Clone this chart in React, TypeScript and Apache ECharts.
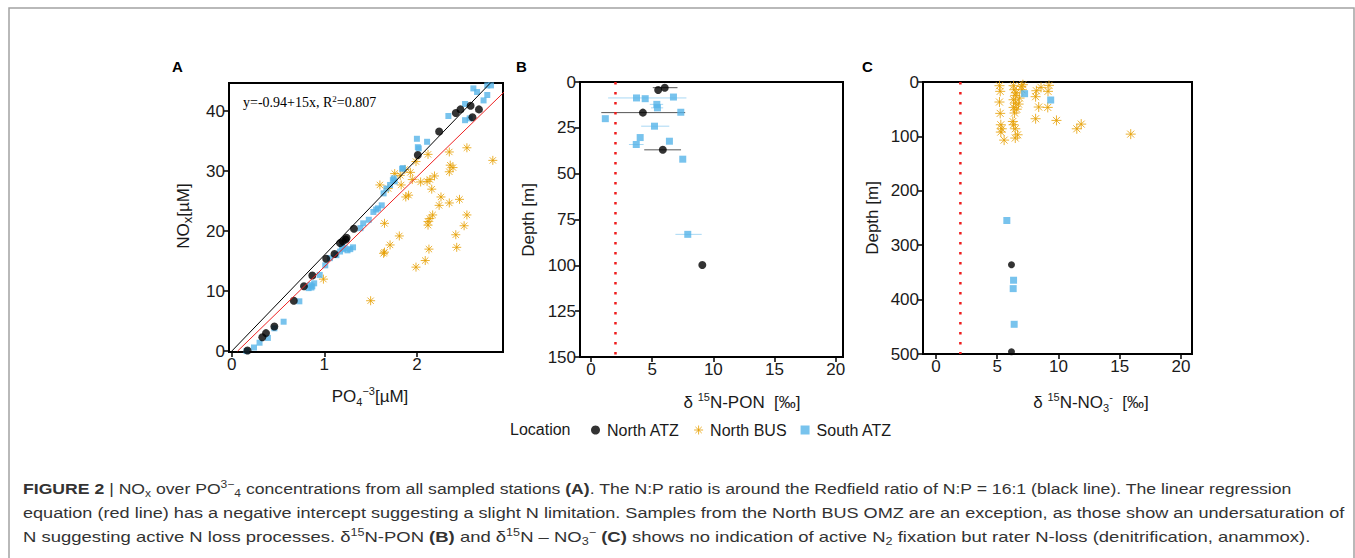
import React, { useEffect, useRef } from "react";
import * as echarts from "echarts";

// ---------------- DATA ----------------
// Panel A: [PO4 (µM), NOx (µM)]
const aNorthATZ: number[][] = [
  [0.17, 0.1], [0.33, 2.3], [0.37, 3.0], [0.46, 4.1], [0.67, 8.4], [0.78, 10.8],
  [0.87, 12.6], [1.02, 15.4], [1.11, 16.2], [1.17, 18.0], [1.2, 18.3], [1.23, 18.6],
  [1.24, 18.9], [1.32, 20.4], [2.01, 32.7], [2.24, 36.6], [2.42, 39.7], [2.47, 40.3],
  [2.58, 40.9], [2.6, 39.0], [2.67, 40.3],
];
const aNorthBUS: number[][] = [
  [1.5, 8.4], [0.99, 12.0], [1.99, 14.0], [2.09, 15.1], [1.64, 16.3], [1.65, 16.5],
  [1.71, 17.7], [1.81, 19.2], [2.13, 17.0], [2.43, 17.3], [2.42, 19.4], [2.51, 20.9],
  [2.54, 22.7], [1.65, 21.3], [2.12, 21.6], [2.12, 21.0], [2.17, 22.7], [2.14, 22.1],
  [2.24, 24.3], [2.35, 24.7], [2.46, 25.3], [2.26, 25.7], [1.88, 25.7], [1.91, 26.0],
  [2.16, 27.0], [2.11, 28.3], [2.14, 28.6], [2.19, 29.2], [2.04, 28.2], [1.95, 28.6],
  [1.6, 27.7], [1.69, 27.1], [1.83, 27.7], [1.82, 29.3], [1.87, 30.3], [1.99, 31.6],
  [2.12, 32.8], [2.35, 33.2], [2.36, 31.0], [2.39, 30.6], [2.35, 29.9], [2.54, 33.9],
  [2.82, 31.8], [1.93, 29.8], [1.76, 29.6],
];
const aSouthATZ: number[][] = [
  [0.16, 0.0], [0.24, 0.6], [0.3, 1.4], [0.39, 2.2], [0.46, 3.8], [0.56, 4.9],
  [0.73, 8.3], [0.83, 10.5], [0.85, 11.0], [0.87, 10.8], [0.89, 11.3], [0.86, 10.6],
  [0.95, 12.7], [1.01, 14.3], [1.06, 15.5], [1.13, 16.0], [1.17, 16.6], [1.2, 17.0],
  [1.22, 17.2], [1.25, 16.8], [1.28, 17.0], [1.31, 17.3], [1.19, 17.4], [1.39, 20.5],
  [1.42, 21.3], [1.48, 21.9], [1.53, 23.2], [1.56, 23.6], [1.58, 23.8], [1.62, 24.3],
  [1.64, 26.3], [1.67, 27.1], [1.71, 27.7], [1.75, 28.8], [1.76, 28.3], [1.74, 28.5],
  [1.84, 30.4], [1.85, 30.5], [2.0, 35.4], [2.01, 34.0], [2.02, 33.8], [2.11, 34.9],
  [2.34, 39.2], [2.52, 38.5], [2.57, 38.8], [2.52, 41.2], [2.61, 43.8], [2.65, 43.2],
  [2.72, 41.8], [2.76, 42.7], [2.76, 44.3], [2.8, 44.3],
];
// Redfield 16:1 (black) and regression y = -0.94 + 15x (red), endpoints
const redfieldLine: number[][] = [[0, 0], [2.9, 46.4]];
const regressionLine: number[][] = [[0.0627, 0], [2.95, 43.31]];

// Panel B: [δ15N-PON (‰), depth (m)]
const bNorthATZ: number[][] = [[6.03, 3.1], [5.49, 4.4], [4.24, 16.7], [5.87, 37.0], [9.1, 99.8]];
const bSouthATZ: number[][] = [
  [3.72, 8.7], [4.43, 9.1], [6.74, 8.2], [5.38, 12.2], [5.43, 14.1], [7.34, 16.5],
  [1.17, 20.0], [5.19, 24.1], [4.02, 30.3], [3.7, 34.1], [6.41, 32.3], [7.5, 42.1], [7.91, 83.1],
];
// error bars: [low, high, depth]
const bErrNorthATZ: number[][] = [[5.05, 7.07, 3.1], [0.84, 7.7, 16.7], [4.35, 7.36, 37.0]];
const bErrSouthATZ: number[][] = [
  [1.4, 7.8, 8.7], [4.8, 5.9, 12.2], [4.9, 5.9, 14.1], [4.1, 6.4, 24.1], [3.1, 4.3, 34.1], [6.9, 9.05, 83.1],
];

// Panel C: [δ15N-NO3 (‰), depth (m)]
const cNorthATZ: number[][] = [[6.17, 336], [6.17, 496]];
const cSouthATZ: number[][] = [[7.24, 21.5], [9.37, 33.1], [5.79, 254.6], [6.34, 364.4], [6.31, 379.8], [6.39, 445.4]];
const cNorthBUS: number[][] = [
  [5.19, 6.8], [5.25, 17.2], [5.19, 36.8], [5.25, 57.7], [5.3, 78.6], [5.38, 86], [5.3, 92],
  [5.57, 106.8], [6.34, 6.8], [6.39, 14.2], [6.48, 24.6], [6.34, 32.6], [6.48, 38.7],
  [6.34, 46.7], [6.42, 57], [6.28, 72.5], [6.34, 78.6], [6.48, 86], [6.67, 97], [6.48, 103],
  [6.97, 8], [7.02, 14.2], [6.83, 29.5], [6.75, 40.6], [7.1, 5], [8.2, 16], [8.14, 27],
  [8.58, 9.9], [8.39, 46], [9.13, 46.7], [9.15, 17.2], [9.23, 6.2], [8.14, 67.5], [9.84, 70.6],
  [11.5, 86], [11.86, 77.4], [15.9, 95.8], [6.55, 20], [6.6, 50],
];
const referenceIsotope = 2; // dotted red line (‰)

const ticksA_X = [0, 1, 2];
const ticksA_Y = [0, 10, 20, 30, 40];
const ticksIso = [0, 5, 10, 15, 20];

const locations = ["North ATZ", "North BUS", "South ATZ"];

const captionLines = [
  "{b|FIGURE 2} | NO{sub|x} over PO{sup|3−}{sub|4} concentrations from all sampled stations {b|(A)}. The N:P ratio is around the Redfield ratio of N:P = 16:1 (black line). The linear regression",
  "equation (red line) has a negative intercept suggesting a slight N limitation. Samples from the North BUS OMZ are an exception, as those show an undersaturation of",
  "N suggesting active N loss processes. δ{sup|15}N-PON {b|(B)} and δ{sup|15}N – NO{sub|3}{sup|−} {b|(C)} shows no indication of active N{sub|2} fixation but rater N-loss (denitrification, anammox).",
];

// ---------------- STYLE ----------------
const SANS = "'Liberation Sans', Arial, Helvetica, sans-serif";
const SERIF = "'Liberation Serif', 'Times New Roman', serif";
const BLACK = "#000000";
const ORANGE = "#E69F00";
const BLUE = "#56B4E9";
const STAR = "path://M5,0L5,10M0,5L10,5M1.5,1.5L8.5,8.5M8.5,1.5L1.5,8.5";

function xAxis(gridIndex: number, min: number, max: number, ticks: number[], fontSize: number) {
  return {
    type: "value", gridIndex, min, max,
    splitLine: { show: false },
    axisLine: { show: true, onZero: false, lineStyle: { color: BLACK, width: 2 } },
    axisTick: { show: true, length: 5, customValues: ticks, lineStyle: { color: BLACK, width: 1.5 } },
    axisLabel: { customValues: ticks, fontSize, color: "#1a1a1a", fontFamily: SANS, margin: 4 },
  };
}
function yAxis(gridIndex: number, min: number, max: number, ticks: number[], fontSize: number, inverse: boolean) {
  return {
    type: "value", gridIndex, min, max, inverse,
    splitLine: { show: false },
    axisLine: { show: true, onZero: false, lineStyle: { color: BLACK, width: 2 } },
    axisTick: { show: true, length: 5, customValues: ticks, lineStyle: { color: BLACK, width: 1.5 } },
    axisLabel: { customValues: ticks, fontSize, color: "#1a1a1a", fontFamily: SANS, margin: 4 },
  };
}

function scatter(name: string, data: number[][], gi: number, size: number) {
  const base: any = { type: "scatter", name, data, xAxisIndex: gi, yAxisIndex: gi, silent: true };
  if (name === "North ATZ") {
    return { ...base, symbol: "circle", symbolSize: size, itemStyle: { color: BLACK }, z: 4 };
  }
  if (name === "South ATZ") {
    return { ...base, symbol: "rect", symbolSize: size, itemStyle: { color: BLUE }, z: 3 };
  }
  return {
    ...base, symbol: STAR, symbolSize: size,
    itemStyle: { color: "rgba(230,159,0,0.25)", borderColor: ORANGE, borderWidth: 1 }, z: 2,
  };
}

function errorBars(name: string, data: number[][], color: string) {
  return {
    type: "custom", name, data, xAxisIndex: 1, yAxisIndex: 1, silent: true, z: 1,
    encode: { x: [0, 1], y: 2 },
    renderItem: (_p: any, api: any) => {
      const a = api.coord([api.value(0), api.value(2)]);
      const b = api.coord([api.value(1), api.value(2)]);
      return { type: "line", shape: { x1: a[0], y1: a[1], x2: b[0], y2: b[1] }, style: { stroke: color, lineWidth: 1 } };
    },
  };
}

function refLine(gi: number, maxDepth: number) {
  return {
    type: "line", name: "ref" + gi, xAxisIndex: gi, yAxisIndex: gi, silent: true,
    data: [[referenceIsotope, 0], [referenceIsotope, maxDepth]],
    showSymbol: false, symbol: "none", z: 1,
    lineStyle: { color: "#ee1c1c", width: 2.5, type: [2.5, 7.5] },
  };
}

const CAP = 15.4;
const capBase = { fontFamily: SANS, fontSize: CAP, fill: "#333333", lineHeight: 20 };
const capRich = {
  b: { fontFamily: SANS, fontSize: CAP, fontWeight: "bold", fill: "#333333", lineHeight: 20 },
  sup: { fontFamily: SANS, fontSize: 10.5, fill: "#333333", lineHeight: 12, verticalAlign: "top" },
  sub: { fontFamily: SANS, fontSize: 10.5, fill: "#333333", lineHeight: 10, verticalAlign: "bottom" },
};
const captionY = [489, 513, 537];
const captionScale = [1.145, 1.175, 1.2];

function axName(x: number, y: number, text: string, rich: any, rotate = false) {
  return {
    type: "text", x, y, rotation: rotate ? Math.PI / 2 : 0,
    style: {
      text, align: "center", verticalAlign: "middle",
      fontFamily: SANS, fontSize: 17, fill: "#1a1a1a", lineHeight: 22, rich,
    },
  };
}
const nameRich = {
  sup: { fontFamily: SANS, fontSize: 11, fill: "#1a1a1a", lineHeight: 12, verticalAlign: "top" },
  sub: { fontFamily: SANS, fontSize: 11, fill: "#1a1a1a", lineHeight: 12, verticalAlign: "bottom" },
  s: { fontFamily: SANS, fontSize: 13, fill: "#1a1a1a", lineHeight: 18, verticalAlign: "bottom" },
};

const option: any = {
  animation: false,
  backgroundColor: "#ffffff",
  grid: [
    { left: 229, top: 83, width: 274, height: 269, show: true, borderColor: BLACK, borderWidth: 2, containLabel: false },
    { left: 580, top: 82, width: 263, height: 275, show: true, borderColor: BLACK, borderWidth: 2, containLabel: false },
    { left: 923, top: 82, width: 269, height: 272, show: true, borderColor: BLACK, borderWidth: 2, containLabel: false },
  ],
  xAxis: [
    xAxis(0, -0.03, 2.93, ticksA_X, 17),
    xAxis(1, -0.9, 20.6, ticksIso, 17),
    xAxis(2, -1.05, 20.9, ticksIso, 17),
  ],
  yAxis: [
    yAxis(0, -0.15, 44.7, ticksA_Y, 17, false),
    { ...yAxis(1, 0, 150, [0, 25, 50, 75, 100, 125, 150], 17, true), interval: 25 },
    { ...yAxis(2, 0, 500, [0, 100, 200, 300, 400, 500], 17, true), interval: 100 },
  ],
  legend: {
    left: 586, top: 417, itemWidth: 9, itemHeight: 9, itemGap: 14,
    selectedMode: false,
    textStyle: { fontSize: 16, color: "#1a1a1a", fontFamily: SANS, padding: [0, 0, 0, 2] },
    data: [
      { name: "North ATZ", icon: "circle", itemStyle: { color: BLACK } },
      { name: "North BUS", icon: STAR, itemStyle: { color: "rgba(230,159,0,0.2)", borderColor: ORANGE, borderWidth: 1 } },
      { name: "South ATZ", icon: "rect", itemStyle: { color: BLUE } },
    ],
  },
  series: [
    // Panel A
    scatter(locations[1], aNorthBUS, 0, 9),
    scatter(locations[2], aSouthATZ, 0, 6),
    scatter(locations[0], aNorthATZ, 0, 8),
    {
      type: "line", name: "Redfield", data: redfieldLine, xAxisIndex: 0, yAxisIndex: 0,
      showSymbol: false, symbol: "none", silent: true, z: 5, lineStyle: { color: BLACK, width: 1 },
    },
    {
      type: "line", name: "Regression", data: regressionLine, xAxisIndex: 0, yAxisIndex: 0,
      showSymbol: false, symbol: "none", silent: true, z: 5, lineStyle: { color: "#ee2222", width: 1 },
    },
    // Panel B
    refLine(1, 150),
    errorBars("errSouth", bErrSouthATZ, "#a8d8f4"),
    errorBars("errNorth", bErrNorthATZ, "#555555"),
    scatter(locations[2], bSouthATZ, 1, 7),
    scatter(locations[0], bNorthATZ, 1, 8),
    // Panel C
    refLine(2, 500),
    scatter(locations[1], cNorthBUS, 2, 10),
    scatter(locations[2], cSouthATZ, 2, 7),
    scatter(locations[0], cNorthATZ, 2, 7),
  ],
  graphic: [
    {
      type: "rect", shape: { x: 9, y: 8, width: 1345, height: 620 }, silent: true,
      style: { fill: "none", stroke: "#a3a3a3", lineWidth: 1.5 },
    },
    { type: "text", x: 172, y: 66, style: { text: "A", fontFamily: SANS, fontSize: 15, fontWeight: "bold", fill: BLACK, verticalAlign: "middle" } },
    { type: "text", x: 516, y: 66, style: { text: "B", fontFamily: SANS, fontSize: 15, fontWeight: "bold", fill: BLACK, verticalAlign: "middle" } },
    { type: "text", x: 862, y: 66, style: { text: "C", fontFamily: SANS, fontSize: 15, fontWeight: "bold", fill: BLACK, verticalAlign: "middle" } },
    {
      type: "text", x: 243, y: 102,
      style: {
        text: "y=-0.94+15x, R{sup|2}=0.807", fontFamily: SERIF, fontSize: 14, fill: BLACK,
        verticalAlign: "middle", lineHeight: 16,
        rich: { sup: { fontFamily: SERIF, fontSize: 9, fill: BLACK, lineHeight: 9, verticalAlign: "top" } },
      },
    },
    axName(370, 396, "PO{sub|4}{sup|−3}[µM]", nameRich),
    axName(183, 216, "NO{s|x}[µM]", nameRich, true),
    axName(742, 402, "δ {sup|15}N-PON  [‰]", nameRich),
    axName(528, 220, "Depth [m]", nameRich, true),
    axName(1091, 402, "δ {sup|15}N-NO{sub|3}{sup|-}  [‰]", nameRich),
    axName(872, 218, "Depth [m]", nameRich, true),
    {
      type: "text", x: 510, y: 429,
      style: { text: "Location", fontFamily: SANS, fontSize: 16, fill: "#1a1a1a", verticalAlign: "middle" },
    },
    ...captionLines.map((text, i) => ({
      type: "text", x: 23, y: captionY[i], scaleX: captionScale[i],
      style: { ...capBase, verticalAlign: "middle", rich: capRich, text },
    })),
  ],
};

export default function App() {
  const ref = useRef<HTMLDivElement>(null);
  useEffect(() => {
    document.body.style.margin = "0";
    const chart = echarts.init(ref.current!, null, { renderer: "svg" });
    chart.setOption(option);
    return () => chart.dispose();
  }, []);
  return (
    <div
      ref={ref}
      style={{ position: "absolute", left: 0, top: 0, width: 1355, height: 558, background: "#ffffff" }}
    />
  );
}
